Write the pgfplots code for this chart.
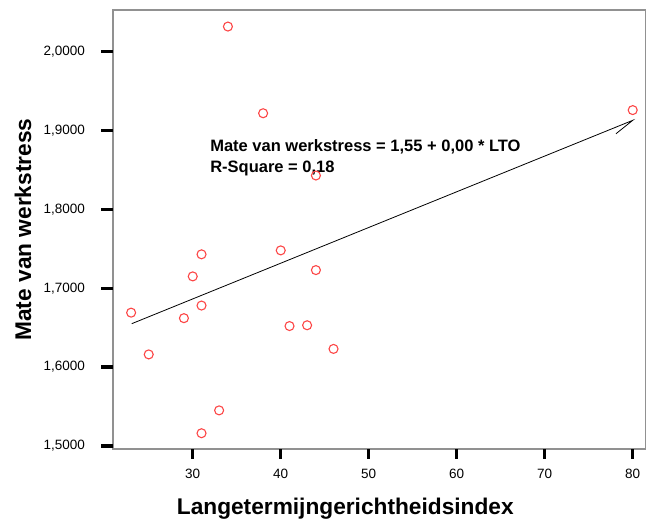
\documentclass[border=0pt]{standalone}
\usepackage{fontspec}
\setmainfont{Liberation Sans}
\usepackage{pgfplots}
\pgfplotsset{compat=1.18}
\definecolor{markred}{RGB}{252,70,70}
\definecolor{axgray}{RGB}{145,145,145}
\begin{document}
\begin{tikzpicture}
\begin{axis}[
  scale only axis,
  width=533pt, height=439pt,
  xmin=20.94, xmax=81.51,
  ymin=1.496, ymax=2.053,
  xtick={30,40,50,60,70,80},
  ytick={1.5,1.6,1.7,1.8,1.9,2.0},
  tickpos=left,
  tick align=outside,
  major tick length=10pt,
  tick style={black, line width=3.3pt},
  axis line style={axgray, line width=1.2pt},
  /pgf/number format/assume math mode=true,
  yticklabel={\pgfmathprintnumber[fixed,fixed zerofill,precision=4,use comma]{\tick}},
  xticklabel={\pgfmathprintnumber[fixed,precision=0]{\tick}},
  yticklabel style={font=\fontsize{13.5}{16}\selectfont, anchor=east, inner sep=0pt, xshift=-18pt},
  xticklabel style={font=\fontsize{13.5}{16}\selectfont, anchor=north, inner sep=0pt, yshift=-10pt},
  xlabel={Langetermijngerichtheidsindex},
  ylabel={Mate van werkstress},
  xlabel style={font=\fontsize{22.7}{27}\selectfont\bfseries, at={(axis description cs:0.4358,-0.14875)}, anchor=base, inner sep=0pt},
  ylabel style={font=\fontsize{22.7}{27}\selectfont\bfseries, at={(axis description cs:-0.1538,0.5)}, anchor=base, inner sep=0pt},
  clip=false,
]
\addplot[only marks, mark=o, mark size=4.5pt, mark options={draw=markred, line width=1.1pt}]
coordinates {
(23,1.669) (25,1.616) (31,1.743) (30,1.715) (31,1.678) (29,1.662)
(40,1.748) (44,1.723) (41,1.652) (43,1.653) (46,1.623) (33,1.545)
(31,1.516) (34,2.032) (38,1.922) (44,1.843) (80,1.926)
};
\addplot[black, line width=0.8pt] coordinates {(23.07,1.655) (80,1.913) (78.1,1.896)};
\node[anchor=base west, inner sep=0pt, font=\fontsize{16.5}{20}\selectfont\bfseries] at (axis cs:31.97,1.874) {Mate van werkstress = 1,55 + 0,00 * LTO};
\node[anchor=base west, inner sep=0pt, font=\fontsize{16.5}{20}\selectfont\bfseries] at (axis cs:31.97,1.847) {R-Square = 0,18};
\pgfplotsinvokeforeach{30,40,50,60,70,80}{\fill[black] ([xshift=-1.7pt]axis cs:#1,1.496) rectangle ([xshift=1.7pt,yshift=-10pt]axis cs:#1,1.496);}
\pgfplotsinvokeforeach{1.5,1.6,1.7,1.8,1.9,2.0}{\fill[black] ([yshift=-1.7pt]axis cs:20.94,#1) rectangle ([xshift=-12pt,yshift=1.7pt]axis cs:20.94,#1);}
\end{axis}
\pgfresetboundingbox
\path ([xshift=-113pt,yshift=-76pt]current axis.south west) rectangle ([yshift=10pt]current axis.north east);
\end{tikzpicture}
\end{document}
